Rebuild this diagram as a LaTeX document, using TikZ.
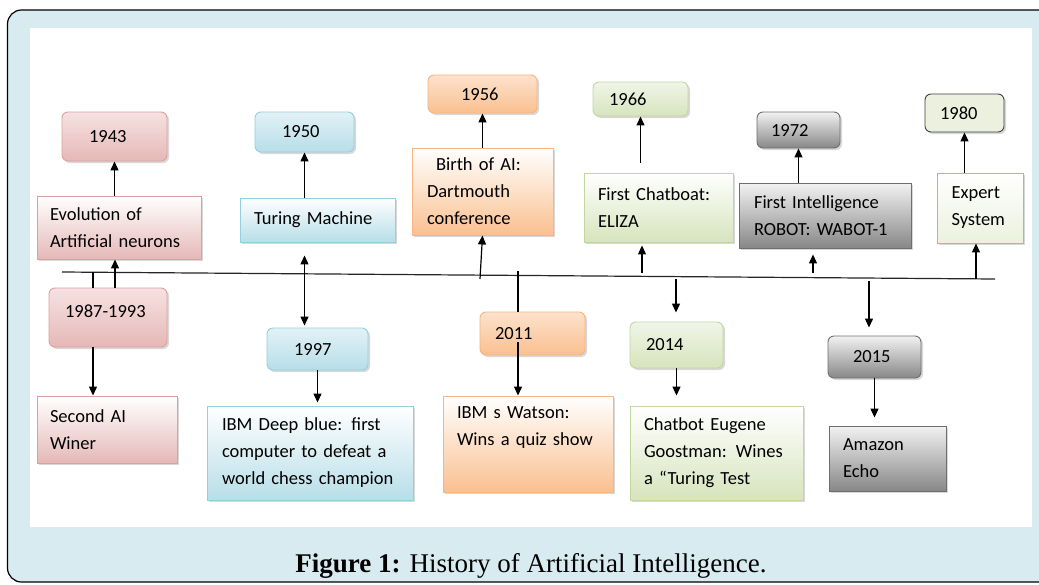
\documentclass[tikz,border=0pt]{standalone}
\usepackage{fontspec}
\setmainfont{Carlito}
\newfontfamily\capfont{Liberation Serif}
\usepackage{tikz}
\usetikzlibrary{calc,arrows.meta,shadows,positioning}
\definecolor{FrameBlue}{RGB}{216,235,241}
\definecolor{PinkTop}{RGB}{246,226,225}
\definecolor{PinkBot}{RGB}{229,184,183}
\definecolor{PinkEdge}{RGB}{222,160,158}
\definecolor{BlueTop}{RGB}{226,242,247}
\definecolor{BlueBot}{RGB}{183,222,232}
\definecolor{BlueEdge}{RGB}{150,206,221}
\definecolor{OrangeTop}{RGB}{253,226,204}
\definecolor{OrangeBot}{RGB}{250,192,144}
\definecolor{OrangeEdge}{RGB}{248,180,130}
\definecolor{GreenTop}{RGB}{240,245,232}
\definecolor{GreenBot}{RGB}{215,228,189}
\definecolor{GreenEdge}{RGB}{196,214,160}
\definecolor{GreyTop}{RGB}{242,242,242}
\definecolor{GreyBot}{RGB}{135,135,135}
\definecolor{GreyEdge}{RGB}{110,110,110}
\definecolor{PaleGreen}{RGB}{235,241,222}

\begin{document}
\begin{tikzpicture}[x=1pt, y=-1pt,
    box/.style={draw, line width=0.9pt, align=left, inner ysep=0pt,
        font=\fontsize{18.5}{27}\selectfont,
        drop shadow={shadow xshift=2pt, shadow yshift=-2pt, opacity=0.3}},
    yearbox/.style={box, rounded corners=6pt, inner xsep=15pt},
    textbox/.style={box, inner xsep=14pt},
    pinkfill/.style={top color=PinkTop, bottom color=PinkBot, draw=PinkEdge},
    pinktext/.style={top color=white, bottom color=PinkBot, draw=PinkEdge},
    bluefill/.style={top color=BlueTop, bottom color=BlueBot, draw=BlueEdge},
    bluetext/.style={top color=white, bottom color=BlueBot, draw=BlueEdge},
    orangefill/.style={top color=OrangeTop, bottom color=OrangeBot, draw=OrangeEdge},
    orangetext/.style={top color=white, bottom color=OrangeBot, draw=OrangeEdge},
    greenfill/.style={top color=GreenTop, bottom color=GreenBot, draw=GreenEdge},
    greentext/.style={top color=white, bottom color=GreenBot, draw=GreenEdge},
    greyfill/.style={top color=GreyTop, bottom color=GreyBot, draw=GreyEdge},
    arr/.style={-{Triangle[length=9pt,width=8pt]}, line width=1.2pt},
    dblarr/.style={{Triangle[length=9pt,width=8pt]}-{Triangle[length=9pt,width=8pt]}, line width=1.2pt}]

    \useasboundingbox (0,0) rectangle (1039,584);
    \draw[fill=FrameBlue, line width=1.2pt, rounded corners=14pt] (7.5,10) rectangle (1070,582);
    \fill[white] (30,28) rectangle (1032,527);

    \node[yearbox, pinkfill, minimum height=49pt, text width=51pt, inner xsep=27pt] (y1943) at (114.5,136.5) {1943};
    \node[textbox, pinktext, minimum height=63pt, text width=138pt, inner xsep=13pt] (evo) at (119,227.5) {Evolution of\\Artificial neurons};
    \node[yearbox, pinkfill, minimum height=59pt, text width=86pt, inner xsep=16pt] (y1987) at (108,317.5) {\raisebox{12pt}{1987-1993}};
    \node[textbox, pinktext, minimum height=67pt, text width=114pt, inner xsep=13pt] (winer) at (107,429.5) {Second AI\\Winer};

    \node[yearbox, bluefill, minimum height=40pt, text width=45pt, inner xsep=27pt] (y1950) at (304.5,132) {1950};
    \node[textbox, bluetext, minimum height=44pt, text width=127pt] (turing) at (317.5,220) {Turing Machine};
    \node[yearbox, bluefill, minimum height=42pt, text width=47pt, inner xsep=27pt] (y1997) at (317.5,349) {1997};
    \node[textbox, bluetext, minimum height=94pt, text width=176pt, inner xsep=15pt] (deep) at (310,453) {IBM Deep blue: first\\computer to defeat a\\world chess champion};

    \node[yearbox, orangefill, minimum height=38pt, text width=43pt, inner xsep=33pt] (y1956) at (482.5,94) {1956};
    \node[textbox, orangetext, minimum height=87pt, text width=111pt, inner xsep=15pt] (birth) at (482.5,191.5) {\hspace*{9pt}Birth of AI:\\Dartmouth\\conference};
    \node[yearbox, orangefill, minimum height=43pt, text width=75pt] (y2011) at (532.5,333.5) {2011};
    \node[textbox, orangetext, minimum height=96pt, text width=142pt] (watson) at (528,444) {IBM s Watson:\\Wins a quiz show\\\strut};

    \node[yearbox, greenfill, minimum height=34pt, text width=63pt, inner xsep=16pt] (y1966) at (640.5,99) {1966};
    \node[textbox, greentext, minimum height=69pt, text width=121pt] (eliza) at (658.5,207.5) {First Chatboat:\\ELIZA};
    \node[yearbox, greenfill, minimum height=46pt, text width=61pt, inner xsep=16pt] (y2014) at (676.5,345) {2014};
    \node[textbox, greentext, minimum height=94pt, text width=145pt] (chatbot) at (716.5,453) {Chatbot Eugene\\Goostman: Wines\\a “Turing Test};

    \node[yearbox, greyfill, minimum height=36pt, text width=55pt, inner xsep=14pt] (y1972) at (798.5,130) {1972};
    \node[textbox, greyfill, minimum height=65pt, text width=142pt, inner xsep=15pt] (firstint) at (825,215.5) {First Intelligence\\ROBOT: WABOT-1};
    \node[yearbox, greyfill, minimum height=42pt, text width=43pt, inner xsep=25pt] (y2015) at (874.5,357) {2015};
    \node[textbox, greyfill, minimum height=65pt, text width=89pt] (amazon) at (887.5,458.5) {Amazon\\Echo};

    \node[yearbox, fill=PaleGreen, draw=black!75, minimum height=38pt, text width=49pt] (y1980) at (964.5,113) {1980};
    \node[textbox, top color=white, bottom color=PaleGreen, draw=PinkEdge, minimum height=70pt, text width=57pt, inner xsep=14.5pt] (expert) at (980,208) {Expert\\System};

    \coordinate (axL) at (62,272);
    \coordinate (axR) at (995,279);
    \coordinate (a87) at (93,272.2);
    \coordinate (a43) at (115,272.4);
    \coordinate (a56) at (480,279);
    \coordinate (a11) at (518,271);
    \coordinate (a66) at (642,273);
    \coordinate (a14) at (676,279);
    \coordinate (a72) at (813,273);
    \coordinate (a15) at (869,281);
    \coordinate (a80) at (976,279);
    \draw[line width=1.2pt, black!85] (axL) -- (axR);

    \draw[arr] (y1943 |- evo.north) -- (y1943.south);
    \draw[line width=1.2pt] (a87) -- (a87 |- y1987.north);
    \draw[arr] (a43 |- y1987.north) -- (a43 |- evo.south);
    \draw[arr] (a87 |- y1987.south) -- (a87 |- winer.north);
    \draw[arr] (y1950 |- turing.north) -- (y1950.south);
    \draw[dblarr, shorten <=13pt, shorten >=2pt] (y1950 |- turing.south) -- (y1950 |- y1997.north);
    \draw[arr, shorten >=3pt] (y1997.south) -- (y1997.south |- deep.north);
    \draw[arr] (birth.north) -- (y1956.south);
    \draw[arr] (a56) -- (birth.south);
    \draw[line width=1.2pt] (a11) -- (a11 |- y2011.north);
    \draw[arr] ($(a11 |- y2011.south)+(0,-13)$) -- (a11 |- watson.north);
    \draw[arr] ($(y1966 |- eliza.north)+(0,-10)$) -- (y1966.south);
    \draw[arr, shorten >=3pt] (a66) -- (a66 |- eliza.south);
    \draw[arr, shorten >=9pt] (a14) -- (a14 |- y2014.north);
    \draw[arr, shorten >=10pt] (y2014.south) -- (y2014.south |- chatbot.north);
    \draw[arr] (y1972 |- firstint.north) -- (y1972.south);
    \draw[arr, shorten >=6pt] (a72) -- (a72 |- firstint.south);
    \draw[arr, shorten >=8pt] (a15) -- (a15 |- y2015.north);
    \draw[arr, shorten >=8pt] (y2015.south) -- (y2015.south |- amazon.north);
    \draw[arr] (a80) -- (a80 |- expert.south);
    \draw[arr] (y1980 |- expert.north) -- (y1980.south);

    \node[anchor=base, font=\capfont\fontsize{27}{30}\selectfont] (caption) at (531,572) {\textbf{Figure 1:} History of Artificial Intelligence.};
\end{tikzpicture}
\end{document}
